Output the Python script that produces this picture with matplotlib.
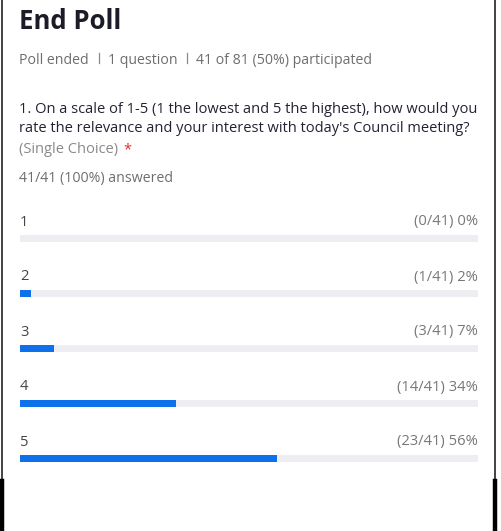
import numpy as np
from matplotlib import pyplot as plt

# Daten
options = ["1", "2", "3", "4", "5"]
counts = np.array([0, 1, 3, 14, 23])
total = 41
percent_labels = ["0%", "2%", "7%", "34%", "56%"]

title = "End Poll"
subtitle_parts = ["Poll ended", "1 question", "41 of 81 (50%) participated"]
question_lines = ["1. On a scale of 1-5 (1 the lowest and 5 the highest), how would you",
                  "rate the relevance and your interest with today's Council meeting?"]
choice_note = "(Single Choice)"
answered = "41/41 (100%) answered"

W, H = 502, 531
plt.rcParams['font.family'] = ['Open Sans', 'DejaVu Sans']
fig = plt.figure(figsize=(W / 100, H / 100), dpi=100)
fig.patch.set_facecolor("white")


def px(x, y):
    return x / W, 1 - y / H


# Rahmen
bg = fig.add_axes([0, 0, 1, 1])
bg.set_xlim(0, W)
bg.set_ylim(H, 0)
bg.axis("off")
bg.plot([2.5, 2.5], [0, 481], color="#222222", lw=1.2)
bg.plot([495.5, 495.5], [0, 481], color="#222222", lw=1.2)
bg.plot([2.5, 2.5], [481, H], color="black", lw=3.2)
bg.plot([495, 495], [481, H], color="black", lw=3.2)

# Texte oben
fig.text(*px(19, 29), title, fontsize=18.5, fontweight="bold", color="#1c1c28", va="baseline")

fig.canvas.draw()
x = 19
for k, part in enumerate(subtitle_parts):
    t = fig.text(*px(x, 64), part, fontsize=10.2, color="#6e6e6e", va="baseline")
    fig.canvas.draw()
    x = t.get_window_extent().x1
    if k < len(subtitle_parts) - 1:
        bg.plot([x + 10, x + 10], [53, 63], color="#8a8a8a", lw=0.9)
        x += 19

fig.text(*px(19, 113), question_lines[0], fontsize=10.5, color="#232333", va="baseline")
fig.text(*px(19, 132), question_lines[1], fontsize=10.5, color="#232333", va="baseline")
t = fig.text(*px(19, 153), choice_note, fontsize=10.5, color="#8a8a8a", va="baseline")
fig.canvas.draw()
bb = t.get_window_extent()
fig.text((bb.x1 + 5) / W, 1 - 153 / H, "*", fontsize=10.5, color="#e02828", va="baseline")
fig.text(*px(19, 182), answered, fontsize=10.2, color="#6e6e6e", va="baseline")

# Balken
left, right = 20, 478
top_px, bot_px = 211, 486
ax = fig.add_axes([left / W, 1 - bot_px / H, (right - left) / W, (bot_px - top_px) / H])
ax.set_xlim(0, 1)
ax.set_ylim(len(options) - 0.5, -0.5)
ax.axis("off")

ypos = np.arange(len(options))
bar_h = 7 / 55
ax.barh(ypos, np.ones(len(options)), height=bar_h, color="#ededf2", edgecolor="none")
ax.barh(ypos, counts / total, height=bar_h, color="#0e71eb", edgecolor="none")

for i, opt in enumerate(options):
    ax.text(0, i - 13 / 55, opt, fontsize=10.6, color="#444444", va="baseline", ha="left")
    ax.text(1, i - 13 / 55, f"({counts[i]}/{total}) {percent_labels[i]}", fontsize=10.6,
            color="#777777", va="baseline", ha="right")

fig.savefig("out.png", dpi=100, facecolor="white")
